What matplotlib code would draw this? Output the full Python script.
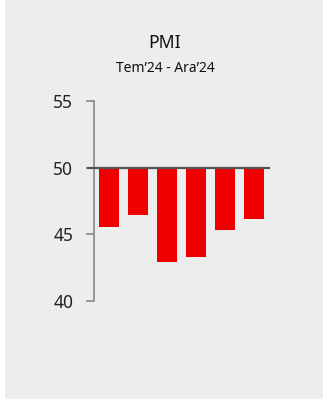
import matplotlib
matplotlib.use('Agg')
import matplotlib.pyplot as plt
from matplotlib.patches import Rectangle

months = ['Tem', 'Ağu', 'Eyl', 'Eki', 'Kas', 'Ara']
pmi = [45.5, 46.4, 42.9, 43.3, 45.3, 46.1]
yticks = [40, 45, 50, 55]

plt.rcParams['font.family'] = ['Noto Sans', 'DejaVu Sans']

fig = plt.figure(figsize=(3.23, 4.03), dpi=100)
fig.patch.set_facecolor('white')

# grey panel behind everything
fig.patches.append(Rectangle((5 / 323, 1 - 399 / 403), 1, 399 / 403,
                             transform=fig.transFigure, facecolor='#ededed',
                             edgecolor='none', zorder=-5))

ax = fig.add_axes([94 / 323, 1 - 300.7 / 403, 175 / 323, 199.7 / 403])
ax.set_zorder(2)
ax.set_facecolor('none')

x = range(len(pmi))
ax.bar(x, [v - 50 for v in pmi], bottom=50, width=0.7, color='#ee0000', zorder=2)
# reference line at 50, starting at the tick mark
ax.axhline(50, xmin=-6 / 175, color='#555555', linewidth=1.6, zorder=3, clip_on=False)

ax.set_xlim(-0.52, 5.52)
ax.set_ylim(40, 55)
ax.set_yticks(yticks)
ax.set_xticks([])
ax.tick_params(axis='y', direction='out', length=6, width=1.2, color='#888888',
               labelsize=12.5, labelcolor='#222222', pad=9)

for s in ['top', 'right', 'bottom']:
    ax.spines[s].set_visible(False)
ax.spines['left'].set_color('#888888')
ax.spines['left'].set_linewidth(1.2)

fig.text(165 / 323, 1 - 43 / 403, 'PMI', ha='center', va='center',
         fontsize=12.7, color='#111111')
fig.text(165 / 323, 1 - 68 / 403, 'Tem\u201924 - Ara\u201924', ha='center', va='center',
         fontsize=10, color='#111111')

fig.savefig('out.png', dpi=100, facecolor=fig.get_facecolor())
